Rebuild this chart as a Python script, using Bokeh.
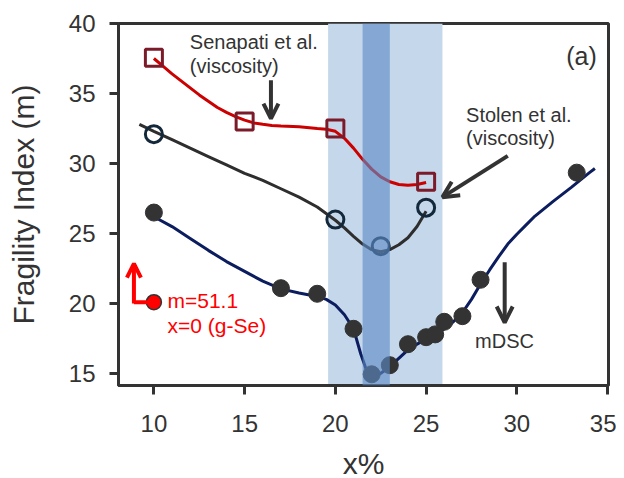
from bokeh.plotting import figure
from bokeh.models import Range1d, FixedTicker, Arrow, OpenHead, BoxAnnotation
from bokeh.core.properties import value
from bokeh.embed import file_html
from bokeh.resources import INLINE

# ---- data ----
mdsc_x = [10, 17, 19, 21, 22, 23, 24, 25, 25.5, 26, 27, 28, 33.3]
mdsc_y = [26.5, 21.1, 20.7, 18.2, 14.95, 15.6, 17.1, 17.6, 17.8, 18.7, 19.1, 21.7, 29.35]

stolen_x = [10, 20, 22.5, 25]
stolen_y = [32.1, 26.0, 24.1, 26.85]

senapati_x = [10, 15, 20, 25]
senapati_y = [37.55, 33.0, 32.5, 28.7]

gse_x = [10]
gse_y = [20.1]

# fitted guide curves
mdsc_fit_x = [10, 11, 12, 13, 14, 15, 16, 17, 18, 19, 19.5, 20, 20.5, 21, 21.4, 21.7, 22,
              22.3, 22.8, 23.3, 24, 24.5, 25, 25.5, 26, 26.5, 27, 27.5, 28, 28.5, 29, 29.5,
              30, 30.5, 31, 32, 33, 34, 34.3]
mdsc_fit_y = [26.2, 25.5, 24.65, 23.8, 23.0, 22.3, 21.6, 21.05, 20.75, 20.5, 20.3, 19.9, 19.2,
              18.2, 16.4, 15.3, 14.8, 14.85, 15.3, 15.85, 16.7, 17.1, 17.45, 17.75, 18.2,
              18.7, 19.35, 20.3, 21.4, 22.4, 23.35, 24.25, 24.95, 25.6, 26.25, 27.3, 28.3,
              29.35, 29.65]

stolen_fit_x = [9.2, 10, 11, 12, 13, 14, 15, 16, 17, 18, 19, 20, 20.5, 21, 21.5, 22, 22.5,
                23, 23.5, 24, 24.5, 25]
stolen_fit_y = [32.8, 32.3, 31.7, 31.1, 30.5, 29.9, 29.3, 28.8, 28.2, 27.6, 26.9, 25.95, 25.4,
                24.8, 24.25, 23.85, 23.7, 23.85, 24.2, 24.7, 25.5, 26.6]

senapati_fit_x = [10, 10.5, 11, 11.5, 12, 12.5, 13, 13.5, 14, 14.5, 15, 15.5, 16, 16.5, 17,
                  18, 19, 19.5, 20, 20.5, 21, 21.5, 22, 22.5, 23, 23.5, 24, 24.5, 25]
senapati_fit_y = [37.5, 36.95, 36.4, 35.9, 35.4, 34.9, 34.45, 34.0, 33.65, 33.35, 33.1, 32.9,
                  32.8, 32.72, 32.68, 32.62, 32.5, 32.45, 32.3, 31.8, 31.1, 30.3, 29.6, 29.05,
                  28.7, 28.5, 28.45, 28.5, 28.65]

band_wide = (19.6, 25.9)
band_narrow = (21.5, 23.0)

x_ticks = [10, 15, 20, 25, 30, 35]
y_ticks = [15, 20, 25, 30, 35, 40]

FONT = "Liberation Sans"
DARK = "#333333"

p = figure(frame_width=490, frame_height=362, output_backend="svg", toolbar_location=None,
           x_range=Range1d(8.05, 35.05), y_range=Range1d(14.15, 40.0),
           min_border_left=118, min_border_right=8, min_border_top=23, min_border_bottom=85)
p.grid.visible = False
p.background_fill_color = "white"
p.border_fill_color = "white"
p.outline_line_color = DARK
p.outline_line_width = 3

for ax in (p.xaxis[0], p.yaxis[0]):
    ax.axis_line_color = DARK
    ax.axis_line_width = 3
    ax.major_tick_line_color = DARK
    ax.major_tick_line_width = 3
    ax.major_tick_out = 9
    ax.major_tick_in = 0
    ax.minor_tick_line_color = None
    ax.major_label_text_font = FONT
    ax.major_label_text_font_size = "24px"
    ax.major_label_text_color = DARK
    ax.axis_label_text_font = FONT
    ax.axis_label_text_font_size = "30px"
    ax.axis_label_text_font_style = "normal"
    ax.axis_label_text_color = DARK

p.xaxis[0].ticker = FixedTicker(ticks=x_ticks)
p.yaxis[0].ticker = FixedTicker(ticks=y_ticks)
p.xaxis[0].axis_label = "x%"
p.yaxis[0].axis_label = "Fragility Index (m)"
p.xaxis[0].major_label_standoff = 20
p.yaxis[0].major_label_standoff = 14
p.xaxis[0].axis_label_standoff = 12
p.yaxis[0].axis_label_standoff = 26

# wide light band (below data)
p.add_layout(BoxAnnotation(left=band_wide[0], right=band_wide[1], fill_color="#c5d7eb",
                           fill_alpha=1.0, line_color=None, level="underlay"))

# curves
p.line(senapati_fit_x, senapati_fit_y, line_color="#cc0000", line_width=3)
p.line(stolen_fit_x, stolen_fit_y, line_color="#2e2e2e", line_width=3)
p.line(mdsc_fit_x, mdsc_fit_y, line_color="#0b1d5e", line_width=3)

# markers
p.scatter(mdsc_x, mdsc_y, marker="circle", size=17, fill_color="#333333", line_color="#333333")
p.scatter(stolen_x, stolen_y, marker="circle", size=17, fill_color=None,
          line_color="#14283c", line_width=3)
p.scatter(senapati_x, senapati_y, marker="square", size=17, fill_color=None,
          line_color="#7b1b2a", line_width=3)
p.scatter(gse_x, gse_y, marker="circle", size=15, fill_color="#ff0000", line_color="#333333",
          line_width=1.5)

# narrow dark band (semi-transparent, above data)
p.add_layout(BoxAnnotation(left=band_narrow[0], right=band_narrow[1], fill_color="#5e8cc5",
                           fill_alpha=0.63, line_color=None, level="overlay"))

# annotations
def txt(x, y, s, size="20px", color=DARK, align="left"):
    p.text(x=[x], y=[y], text=[s], text_font=value(FONT), text_font_size=size,
           text_color=color, text_align=align, text_baseline="middle")

txt(11.98, 38.7, "Senapati  et al.")
txt(11.98, 37.0, "(viscosity)")
txt(27.2, 33.45, "Stolen et al.")
txt(27.2, 31.8, "(viscosity)")
txt(34.4, 37.7, "(a)", size="25px", align="right")
txt(27.7, 17.3, "mDSC")
txt(10.75, 20.2, "m=51.1", size="21px", color="#ff0000")
txt(10.75, 18.45, "x=0 (g-Se)", size="21px", color="#ff0000")

p.add_layout(Arrow(x_start=16.45, y_start=35.95, x_end=16.45, y_end=33.2, line_color=DARK,
                   line_width=4, end=OpenHead(size=15, line_width=4, line_color=DARK)))
p.add_layout(Arrow(x_start=29.5, y_start=30.55, x_end=25.9, y_end=27.6, line_color=DARK,
                   line_width=4, end=OpenHead(size=16, line_width=4, line_color=DARK)))
p.add_layout(Arrow(x_start=29.33, y_start=22.95, x_end=29.33, y_end=18.65, line_color=DARK,
                   line_width=4, end=OpenHead(size=16, line_width=4, line_color=DARK)))
p.line([8.9, 9.75], [20.1, 20.1], line_color="#ff0000", line_width=4)
p.add_layout(Arrow(x_start=8.9, y_start=20.0, x_end=8.9, y_end=22.85, line_color="#ff0000",
                   line_width=4, end=OpenHead(size=14, line_width=4, line_color="#ff0000")))

open("out.html", "w").write(file_html(p, INLINE))
